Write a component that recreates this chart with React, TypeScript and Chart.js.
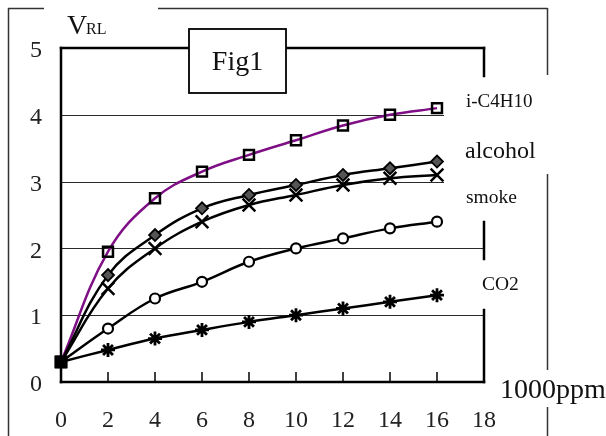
import React, { useEffect, useRef } from "react";
import { Chart, registerables } from "chart.js";

Chart.register(...registerables);

const xValues = [0, 2, 4, 6, 8, 10, 12, 14, 16];
const isoButane = [0.3, 1.95, 2.75, 3.15, 3.4, 3.62, 3.84, 4.0, 4.1];
const alcohol = [0.3, 1.6, 2.2, 2.6, 2.8, 2.95, 3.1, 3.2, 3.3];
const smoke = [0.3, 1.4, 2.0, 2.4, 2.65, 2.8, 2.95, 3.05, 3.1];
const gasO = [0.3, 0.8, 1.25, 1.5, 1.8, 2.0, 2.15, 2.3, 2.4];
const co2 = [0.3, 0.48, 0.65, 0.78, 0.9, 1.0, 1.1, 1.2, 1.3];
const xTicks = [0, 2, 4, 6, 8, 10, 12, 14, 16, 18];
const yTicks = [0, 1, 2, 3, 4, 5];
const seriesLabels = ["i-C4H10", "alcohol", "smoke", "CO2"];

const SERIF = "'Liberation Serif', 'Times New Roman', serif";

function pts(vals: number[]) {
  return vals.map((v, i) => ({ x: xValues[i], y: v }));
}

function firstBlack(base: string) {
  return xValues.map((_, i) => (i === 0 ? "#000" : base));
}
function firstRect(style: string) {
  return xValues.map((_, i) => (i === 0 ? "rect" : style));
}
function radii(r: number) {
  return xValues.map((_, i) => (i === 0 ? 7 : r));
}

const framePlugin = {
  id: "framePlugin",
  beforeDatasetsDraw(chart: any) {
    const { ctx, chartArea: a, scales } = chart;
    const y = scales.y;
    const x = scales.x;
    ctx.save();
    ctx.strokeStyle = "#2a2a2a";
    ctx.lineWidth = 1;
    const gridEnds: Record<number, number> = { 1: a.right, 2: a.right, 3: x.getPixelForValue(16.3), 4: x.getPixelForValue(16.3) };
    [1, 2, 3, 4].forEach((v) => {
      const py = Math.round(y.getPixelForValue(v)) + 0.5;
      ctx.beginPath();
      ctx.moveTo(a.left, py);
      ctx.lineTo(gridEnds[v], py);
      ctx.stroke();
    });
    ctx.lineWidth = 1.5;
    ctx.strokeStyle = "#000";
    xTicks.slice(1, -1).forEach((v) => {
      const px = x.getPixelForValue(v);
      ctx.beginPath();
      ctx.moveTo(px, a.bottom);
      ctx.lineTo(px, a.bottom - 10);
      ctx.stroke();
    });
    ctx.restore();
  },
  afterDraw(chart: any) {
    const { ctx, chartArea: a } = chart;
    ctx.save();
    ctx.strokeStyle = "#333";
    ctx.lineWidth = 1.5;
    const seg = (x1: number, y1: number, x2: number, y2: number) => {
      ctx.beginPath();
      ctx.moveTo(x1, y1);
      ctx.lineTo(x2, y2);
      ctx.stroke();
    };
    seg(8.5, 8, 8.5, 436);
    seg(8, 8.5, 44, 8.5);
    seg(158, 8.5, 547.5, 8.5);
    seg(547.5, 8, 547.5, 75);
    seg(547.5, 174, 547.5, 370);
    seg(547.5, 407, 547.5, 436);

    ctx.strokeStyle = "#000";
    ctx.lineWidth = 2.5;
    ctx.lineCap = "square";
    seg(a.left, a.top, a.left, a.bottom);
    seg(a.left, a.bottom, a.right, a.bottom);
    seg(a.left, a.top, 189, a.top);
    seg(286, a.top, a.right, a.top);
    seg(a.right, a.top, a.right, 76);
    seg(a.right, 222, a.right, 259);
    seg(a.right, 310, a.right, a.bottom);

    ctx.lineCap = "butt";
    ctx.lineWidth = 1.8;
    ctx.fillStyle = "#fff";
    ctx.fillRect(189, 29, 97, 64);
    ctx.strokeRect(189, 29, 97, 64);
    ctx.fillStyle = "#111";
    ctx.font = `28px ${SERIF}`;
    ctx.textAlign = "center";
    ctx.textBaseline = "alphabetic";
    ctx.fillText("Fig1", 237.5, 70);

    ctx.textAlign = "left";
    ctx.font = `28px ${SERIF}`;
    ctx.fillText("V", 67, 34);
    ctx.font = `16px ${SERIF}`;
    ctx.fillText("RL", 86, 34);

    ctx.font = `19px ${SERIF}`;
    ctx.fillText(seriesLabels[0], 466, 107);
    ctx.font = `24px ${SERIF}`;
    ctx.fillText(seriesLabels[1], 465, 158);
    ctx.font = `19.5px ${SERIF}`;
    ctx.fillText(seriesLabels[2], 466, 203);
    ctx.font = `19.5px ${SERIF}`;
    ctx.fillText(seriesLabels[3], 482, 290);

    ctx.font = `28px ${SERIF}`;
    ctx.fillText("1000ppm", 500, 398);
    ctx.restore();
  },
};

export default function App() {
  const ref = useRef<HTMLCanvasElement | null>(null);
  useEffect(() => {
    if (!ref.current) return;
    const black = "#000";
    const common = { borderWidth: 2.5, tension: 0.4, clip: false as any, pointBorderColor: black };
    const chart = new Chart(ref.current, {
      type: "line",
      data: {
        datasets: [
          {
            ...common,
            label: "gas",
            data: pts(gasO),
            borderColor: black,
            pointStyle: firstRect("circle") as any,
            pointRadius: radii(5) as any,
            pointBorderWidth: 2.2,
            pointBackgroundColor: firstBlack("#fff") as any,
          },
          {
            ...common,
            label: "CO2",
            data: pts(co2),
            borderColor: black,
            pointStyle: firstRect("star") as any,
            pointRadius: radii(7) as any,
            pointBorderWidth: 2.8,
            pointBackgroundColor: firstBlack("#000") as any,
          },
          {
            ...common,
            label: "smoke",
            data: pts(smoke),
            borderColor: black,
            pointStyle: firstRect("crossRot") as any,
            pointRadius: radii(9) as any,
            pointBorderWidth: 2.5,
            pointBackgroundColor: firstBlack("#000") as any,
          },
          {
            ...common,
            label: "alcohol",
            data: pts(alcohol),
            borderColor: black,
            pointStyle: firstRect("rectRot") as any,
            pointRadius: radii(6) as any,
            pointBorderWidth: 1.8,
            pointBackgroundColor: firstBlack("#555") as any,
          },
          {
            ...common,
            label: "i-C4H10",
            data: pts(isoButane),
            borderColor: "#7f0f85",
            pointStyle: "rect",
            pointRadius: radii(7) as any,
            pointBorderWidth: 2.5,
            pointBackgroundColor: firstBlack("rgba(255,255,255,0)") as any,
          },
        ],
      },
      options: {
        responsive: false,
        animation: false,
        devicePixelRatio: 1,
        layout: { padding: { left: 0, top: 48, right: 122, bottom: 0 } },
        plugins: { legend: { display: false }, tooltip: { enabled: false } },
        scales: {
          x: {
            type: "linear",
            min: 0,
            max: 18,
            afterBuildTicks: (s: any) => {
              s.ticks = xTicks.map((v) => ({ value: v }));
            },
            afterFit: (s: any) => {
              s.height = 54;
            },
            grid: { display: false, drawTicks: false },
            border: { display: false },
            ticks: {
              padding: 24,
              color: "#222",
              font: { family: SERIF, size: 24 },
              maxRotation: 0,
              autoSkip: false,
            },
          },
          y: {
            type: "linear",
            min: 0,
            max: 5,
            afterBuildTicks: (s: any) => {
              s.ticks = yTicks.map((v) => ({ value: v }));
            },
            afterFit: (s: any) => {
              s.width = 61;
            },
            grid: { display: false, drawTicks: false },
            border: { display: false },
            ticks: {
              padding: 19,
              labelOffset: 3,
              color: "#222",
              font: { family: SERIF, size: 24 },
            },
          },
        },
      },
      plugins: [framePlugin],
    });
    return () => chart.destroy();
  }, []);
  return (
    <div style={{ position: "fixed", left: 0, top: 0, width: 606, height: 436, background: "#fff" }}>
      <canvas ref={ref} width={606} height={436} style={{ width: 606, height: 436, display: "block" }} />
    </div>
  );
}
